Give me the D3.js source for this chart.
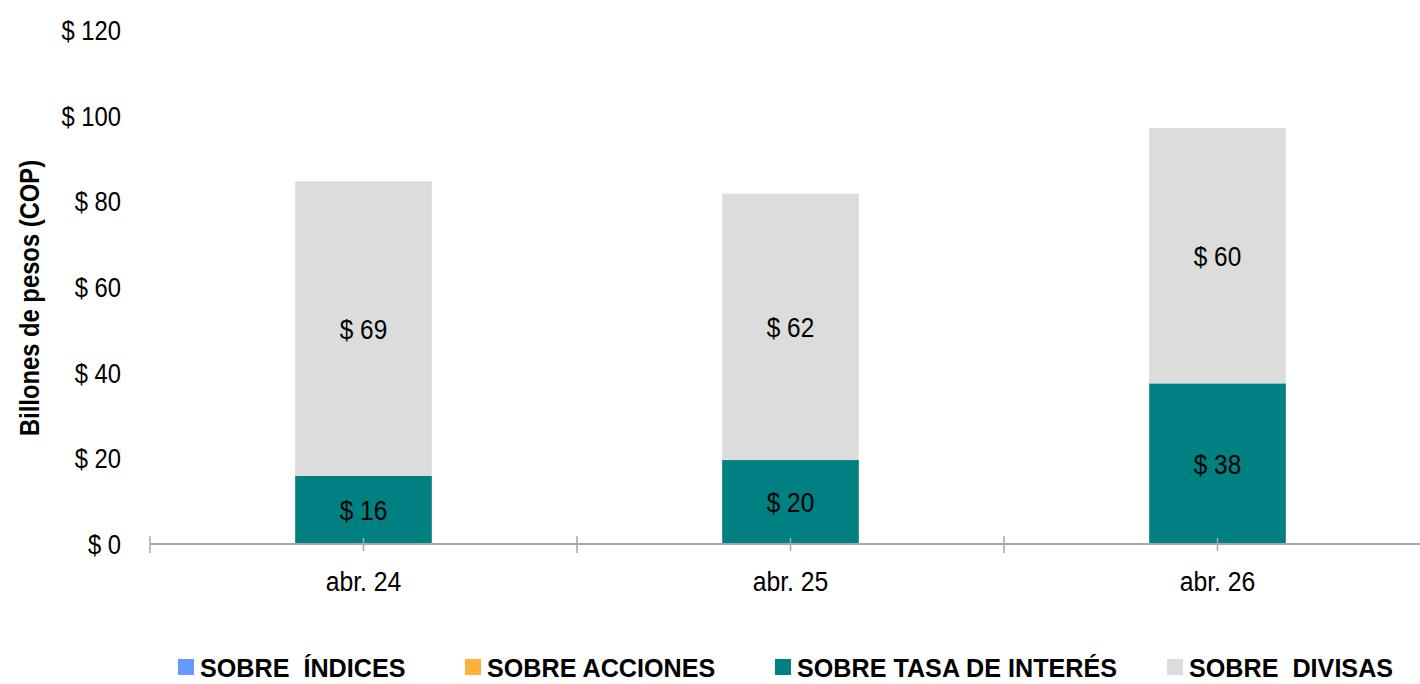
<!DOCTYPE html>
<meta charset="utf-8">
<style>
body { margin: 0; background: #fff; }
svg text { font-family: "Liberation Sans", Arial, sans-serif; fill: #000; }
.tick-y { font-size: 28px; }
.cat { font-size: 27.5px; }
.val { font-size: 28px; }
.leg { font-size: 26.5px; font-weight: bold; }
.ytitle { font-size: 28px; font-weight: bold; }
</style>
<svg width="1420" height="684"></svg>
<script src="https://d3js.org/d3.v7.min.js"></script>
<script>

// data (billones de pesos)
var categories = ["abr. 24", "abr. 25", "abr. 26"];
var seriesNames = ["SOBRE  ÍNDICES", "SOBRE ACCIONES", "SOBRE TASA DE INTERÉS", "SOBRE  DIVISAS"];
var seriesColors = ["#6699FF", "#FFB03B", "#008080", "#DCDCDC"];
var indices = [0, 0, 0];
var acciones = [0, 0, 0];
var tasaInteres = [15.9, 19.6, 37.5];
var divisas = [68.8, 62.2, 59.6];
var yTicks = [0, 20, 40, 60, 80, 100, 120];

var svg = d3.select("svg");

var x = d3.scaleBand().domain(categories).range([150, 1431])
    .paddingInner(0.68).paddingOuter(0.34);
var y = d3.scaleLinear().domain([0, 120]).range([544, 30]);

// the original font is a narrow one, so squeeze text horizontally
function place(tx, ty, sx) {
  return "translate(" + tx + "," + ty + ") scale(" + sx + ",1)";
}

var rows = categories.map(function(c, i) {
  return { cat: c, s0: indices[i], s1: acciones[i], s2: tasaInteres[i], s3: divisas[i] };
});
var stack = d3.stack().keys(["s0", "s1", "s2", "s3"])(rows);

// bars
stack.forEach(function(layer, k) {
  svg.append("g").selectAll("rect")
    .data(layer)
    .enter().append("rect")
    .attr("x", function(d) { return x(d.data.cat); })
    .attr("width", x.bandwidth())
    .attr("y", function(d) { return y(d[1]); })
    .attr("height", function(d) { return y(d[0]) - y(d[1]); })
    .attr("fill", seriesColors[k]);
});

// value labels for the two visible series
[2, 3].forEach(function(k) {
  svg.append("g").selectAll("text")
    .data(stack[k])
    .enter().append("text")
    .attr("class", "val")
    .attr("transform", function(d) {
      return place(x(d.data.cat) + x.bandwidth() / 2, (y(d[0]) + y(d[1])) / 2, 0.87);
    })
    .attr("dy", "0.36em")
    .attr("text-anchor", "middle")
    .text(function(d) { return "$ " + Math.round(d[1] - d[0]); });
});

// x axis line + ticks
var axisCol = "#A6A6A6";
var step = x.step();
svg.append("line")
  .attr("x1", 150).attr("x2", 1420)
  .attr("y1", y(0)).attr("y2", y(0))
  .attr("stroke", axisCol).attr("stroke-width", 2);

svg.append("g").selectAll("line")
  .data(categories)
  .enter().append("line")
  .attr("x1", function(d) { return x(d) + x.bandwidth() / 2 - step / 2; })
  .attr("x2", function(d) { return x(d) + x.bandwidth() / 2 - step / 2; })
  .attr("y1", y(0) - 8).attr("y2", y(0) + 9)
  .attr("stroke", axisCol).attr("stroke-width", 1.5);
svg.append("g").selectAll("line")
  .data(categories)
  .enter().append("line")
  .attr("x1", function(d) { return x(d) + x.bandwidth() / 2; })
  .attr("x2", function(d) { return x(d) + x.bandwidth() / 2; })
  .attr("y1", y(0) - 6).attr("y2", y(0) + 7)
  .attr("stroke", axisCol).attr("stroke-width", 1.5);

svg.append("g").selectAll("text")
  .data(categories)
  .enter().append("text")
  .attr("class", "cat")
  .attr("transform", function(d) { return place(x(d) + x.bandwidth() / 2, 591, 0.9); })
  .attr("text-anchor", "middle")
  .text(function(d) { return d; });

// y tick labels (no axis line in the original)
svg.append("g").selectAll("text")
  .data(yTicks)
  .enter().append("text")
  .attr("class", "tick-y")
  .attr("transform", function(d) { return place(121, y(d), 0.85); })
  .attr("dy", "0.36em")
  .attr("text-anchor", "end")
  .text(function(d) { return "$ " + d; });

svg.append("text")
  .attr("class", "ytitle")
  .attr("transform", "translate(29,298) rotate(-90) scale(0.85,1)")
  .attr("dy", "0.36em")
  .attr("text-anchor", "middle")
  .text("Billones de pesos (COP)");

// legend
var legX = [178, 465, 775, 1167];
var leg = svg.append("g").selectAll("g")
  .data(seriesNames)
  .enter().append("g")
  .attr("transform", function(d, i) { return "translate(" + legX[i] + ",659)"; });
leg.append("rect")
  .attr("width", 16).attr("height", 16)
  .attr("fill", function(d, i) { return seriesColors[i]; });
leg.append("text")
  .attr("class", "leg")
  .attr("transform", place(22, 8, 0.95))
  .attr("dy", "0.36em")
  .style("white-space", "pre")
  .text(function(d) { return d; });

</script>
